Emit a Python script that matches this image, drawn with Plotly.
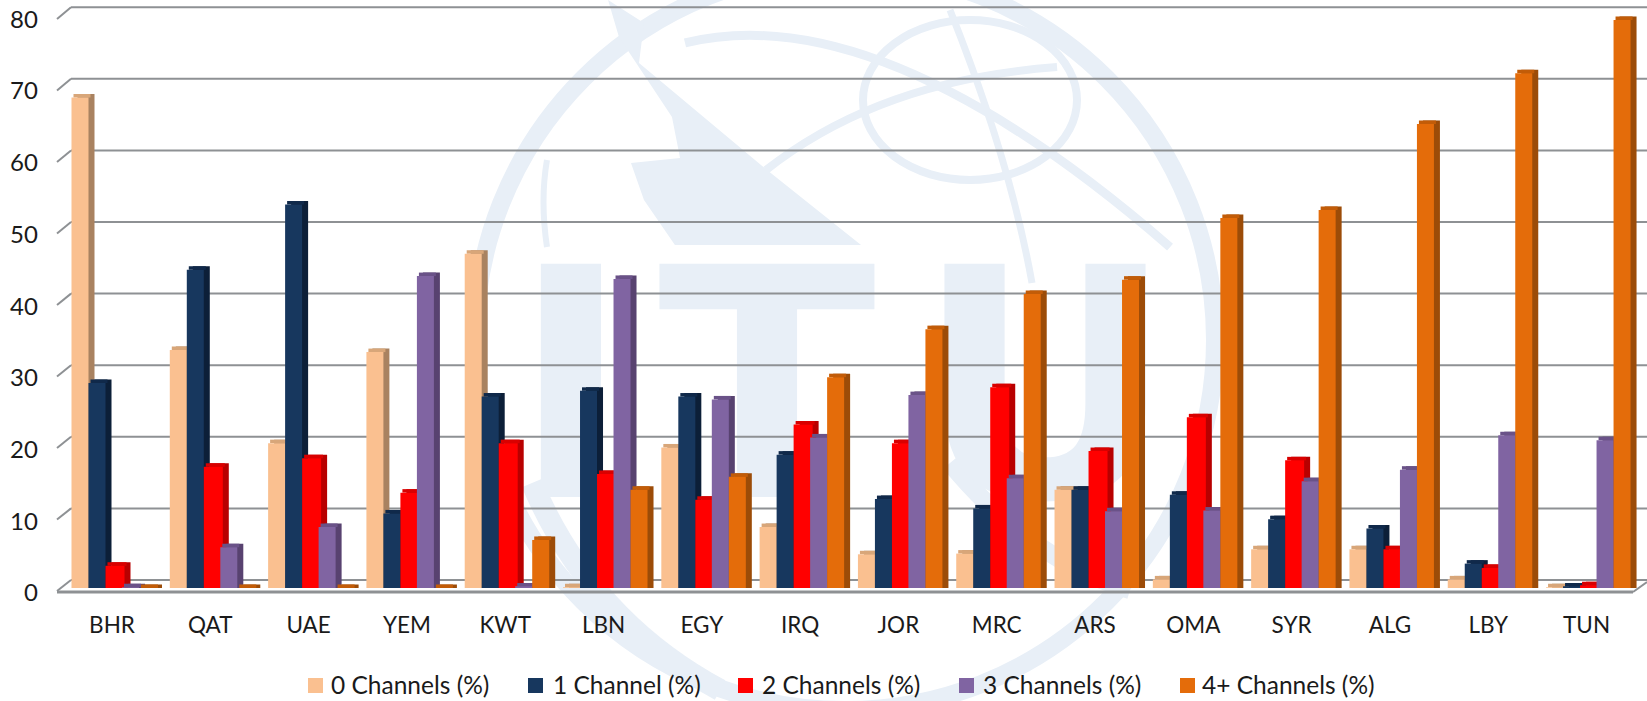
import plotly.graph_objects as go

W, H = 1647, 701

categories = ["BHR", "QAT", "UAE", "YEM", "KWT", "LBN", "EGY", "IRQ",
              "JOR", "MRC", "ARS", "OMA", "SYR", "ALG", "LBY", "TUN"]
channels_0 = [68.4, 33.2, 20.2, 32.9, 46.6, 0.1, 19.6, 8.5, 4.7, 4.8, 13.7, 1.2, 5.4, 5.4, 1.2, 0.1]
channels_1 = [28.6, 44.4, 53.5, 10.4, 26.7, 27.5, 26.7, 18.6, 12.4, 11.1, 13.7, 13.0, 9.6, 8.3, 3.4, 0.2]
channels_2 = [3.1, 16.9, 18.1, 13.3, 20.2, 15.9, 12.3, 22.8, 20.2, 28.0, 19.1, 23.8, 17.8, 5.4, 2.8, 0.4]
channels_3 = [0.1, 5.7, 8.5, 43.5, 0.2, 43.1, 26.3, 21.0, 26.9, 15.3, 10.7, 10.8, 14.9, 16.5, 21.3, 20.6]
channels_4 = [0.0, 0.0, 0.0, 0.0, 6.7, 13.7, 15.5, 29.4, 36.1, 41.0, 43.0, 51.6, 52.7, 64.7, 71.8, 79.2]
y_ticks = [0, 10, 20, 30, 40, 50, 60, 70, 80]

series = [
    ("0 Channels (%)", channels_0, "#fac090", "#d8a679", "#a98260", 17),
    ("1 Channel (%)", channels_1, "#17375e", "#10294a", "#0c1f38", 17),
    ("2 Channels (%)", channels_2, "#ff0000", "#d90000", "#b80000", 19),
    ("3 Channels (%)", channels_3, "#8064a2", "#6a5288", "#584270", 17),
    ("4+ Channels (%)", channels_4, "#e46c0a", "#c25c08", "#9c4c08", 17),
]
# swatch left edge and text left edge of each legend entry, in pixels
legend_swatch_x = [308, 528, 738, 959, 1180]
legend_text_x = [330, 552, 761, 982, 1201]

# plot area in pixels
left, right = 64.85, 1637.7
base_y, top_y = 588, 7.2
y_max = 81
pitch = (right - left) / 16
unit_y = (base_y - top_y) / y_max
depth = 3.5 / unit_y
grid_color = "#8e9194"
mark_color = "#e8eff7"


def px(x, y):
    return x / W, 1 - y / H


def path(points, close=False):
    parts = []
    for i, (x, y) in enumerate(points):
        a, b = px(x, y)
        parts.append(("M" if i == 0 else "L") + f"{a:.4f},{b:.4f}")
    return " ".join(parts) + (" Z" if close else "")


def curve(p0, c, p1):
    a0, b0 = px(*p0)
    a1, b1 = px(*c)
    a2, b2 = px(*p1)
    return f"M{a0:.4f},{b0:.4f} Q{a1:.4f},{b1:.4f} {a2:.4f},{b2:.4f}"


def line(x0, y0, x1, y1, color=grid_color, width=2):
    a0, b0 = px(x0, y0)
    a1, b1 = px(x1, y1)
    return dict(type="line", xref="paper", yref="paper", x0=a0, y0=b0, x1=a1, y1=b1,
                layer="below", line=dict(color=color, width=width))


def stroke(d, width):
    return dict(type="path", xref="paper", yref="paper", path=d, layer="below",
                line=dict(color=mark_color, width=width))


def oval(cx, cy, rx, ry, width):
    a0, b0 = px(cx - rx, cy - ry)
    a1, b1 = px(cx + rx, cy + ry)
    return dict(type="circle", xref="paper", yref="paper", x0=a0, y0=b0, x1=a1, y1=b1,
                layer="below", line=dict(color=mark_color, width=width))


def letter(text, cx):
    a0, b0 = px(cx - 140, 248)
    a1, b1 = px(cx + 140, 478)
    return dict(type="rect", xref="paper", yref="paper", x0=a0, y0=b0, x1=a1, y1=b1,
                layer="below", line=dict(width=0), fillcolor="rgba(0,0,0,0)",
                label=dict(text=text, textposition="middle center",
                           font=dict(family="DejaVu Sans", size=320, weight=700, color=mark_color)))


# pale logo behind the chart
shapes = [
    oval(845, 340, 370, 370, 18),
    oval(970, 100, 107, 80, 8),
    stroke(curve((685, 43), (880, -5), (1170, 247)), 9),
    stroke(curve((766, 170), (880, 80), (1057, 67)), 8),
    stroke(curve((950, 10), (1010, 160), (1032, 283)), 7),
    stroke(curve((547, 160), (540, 200), (547, 247)), 6),
    stroke(curve((532, 483), (590, 620), (720, 690)), 22),
    stroke(curve((950, 463), (1030, 560), (1130, 590)), 18),
    dict(type="path", xref="paper", yref="paper", layer="below", line=dict(width=0),
         fillcolor=mark_color,
         path=path([(608, 0), (644, 23), (639, 63), (767, 170), (861, 245), (675, 245),
                    (644, 200), (631, 163), (680, 158), (672, 117), (619, 37)], close=True)),
    letter("I", 571),
    letter("T", 767),
    letter("U", 1045),
]

# walls and floor of the 3D frame
for tick in y_ticks:
    back = 580 - tick * 7.16
    front = 591 - tick * 7.15
    shapes.append(line(71, back, W, back))
    shapes.append(line(57, front, 71, back))
shapes.append(line(57, 592, 1633, 592, width=3))
shapes.append(line(1633, 592, 1647, 582))

fig = go.Figure()
offset = -42.5
for name, values, color, top_color, side_color, bar_w in series:
    # fake depth: a dark side and a lip, both raised by a few pixels behind the front face
    fig.add_trace(go.Bar(x=categories, y=[v + depth for v in values], width=bar_w / pitch,
                         offset=(offset + 6) / pitch,
                         marker=dict(color=side_color, line=dict(width=0)), showlegend=False, hoverinfo="skip"))
    fig.add_trace(go.Bar(x=categories, y=[depth] * len(values), base=values, width=bar_w / pitch,
                         offset=(offset + 2) / pitch,
                         marker=dict(color=top_color, line=dict(width=0)), showlegend=False, hoverinfo="skip"))
    fig.add_trace(go.Bar(x=categories, y=values, width=bar_w / pitch, offset=offset / pitch, name=name,
                         marker=dict(color=color, line=dict(width=0)), showlegend=False))
    offset += 17 - (0.5 if bar_w > 17 else 0)

# legend drawn by hand: the built-in one keeps its swatches too small
annotations = []
for (name, _, color, _, _, _), sx, tx in zip(series, legend_swatch_x, legend_text_x):
    a0, b0 = px(sx, 678)
    a1, b1 = px(sx + 15, 693)
    shapes.append(dict(type="rect", xref="paper", yref="paper", x0=a0, y0=b0, x1=a1, y1=b1,
                       line=dict(width=0), fillcolor=color))
    a, b = px(tx, 684)
    annotations.append(dict(text=name, xref="paper", yref="paper", x=a, y=b, xanchor="left", yanchor="middle",
                            showarrow=False, borderpad=0, font=dict(size=24.5)))

fig.update_layout(
    width=W, height=H, autosize=False,
    margin=dict(l=0, r=0, t=0, b=0, autoexpand=False),
    paper_bgcolor="white", plot_bgcolor="rgba(0,0,0,0)",
    barmode="overlay", showlegend=False,
    shapes=shapes, annotations=annotations,
    font=dict(family="Lato", size=20, color="#1a1a1a"),
    xaxis=dict(domain=[left / W, right / W], range=[-0.5, 15.5], type="category",
               categoryorder="array", categoryarray=categories,
               showgrid=False, zeroline=False, showline=False, ticks="",
               ticklabelstandoff=21, ticklabelshift=-2, tickfont=dict(size=22.5)),
    yaxis=dict(domain=[1 - base_y / H, 1 - top_y / H], range=[0, y_max],
               tickvals=y_ticks, showgrid=False, zeroline=False, showline=False, ticks="",
               ticklabeloverflow="allow", ticklabelstandoff=26, ticklabelshift=5, tickfont=dict(size=24)),
)

# the page's default body margin would push the figure 8px off
fig.write_html("out.html", config=dict(displayModeBar=False), post_script="document.body.style.margin='0';")
